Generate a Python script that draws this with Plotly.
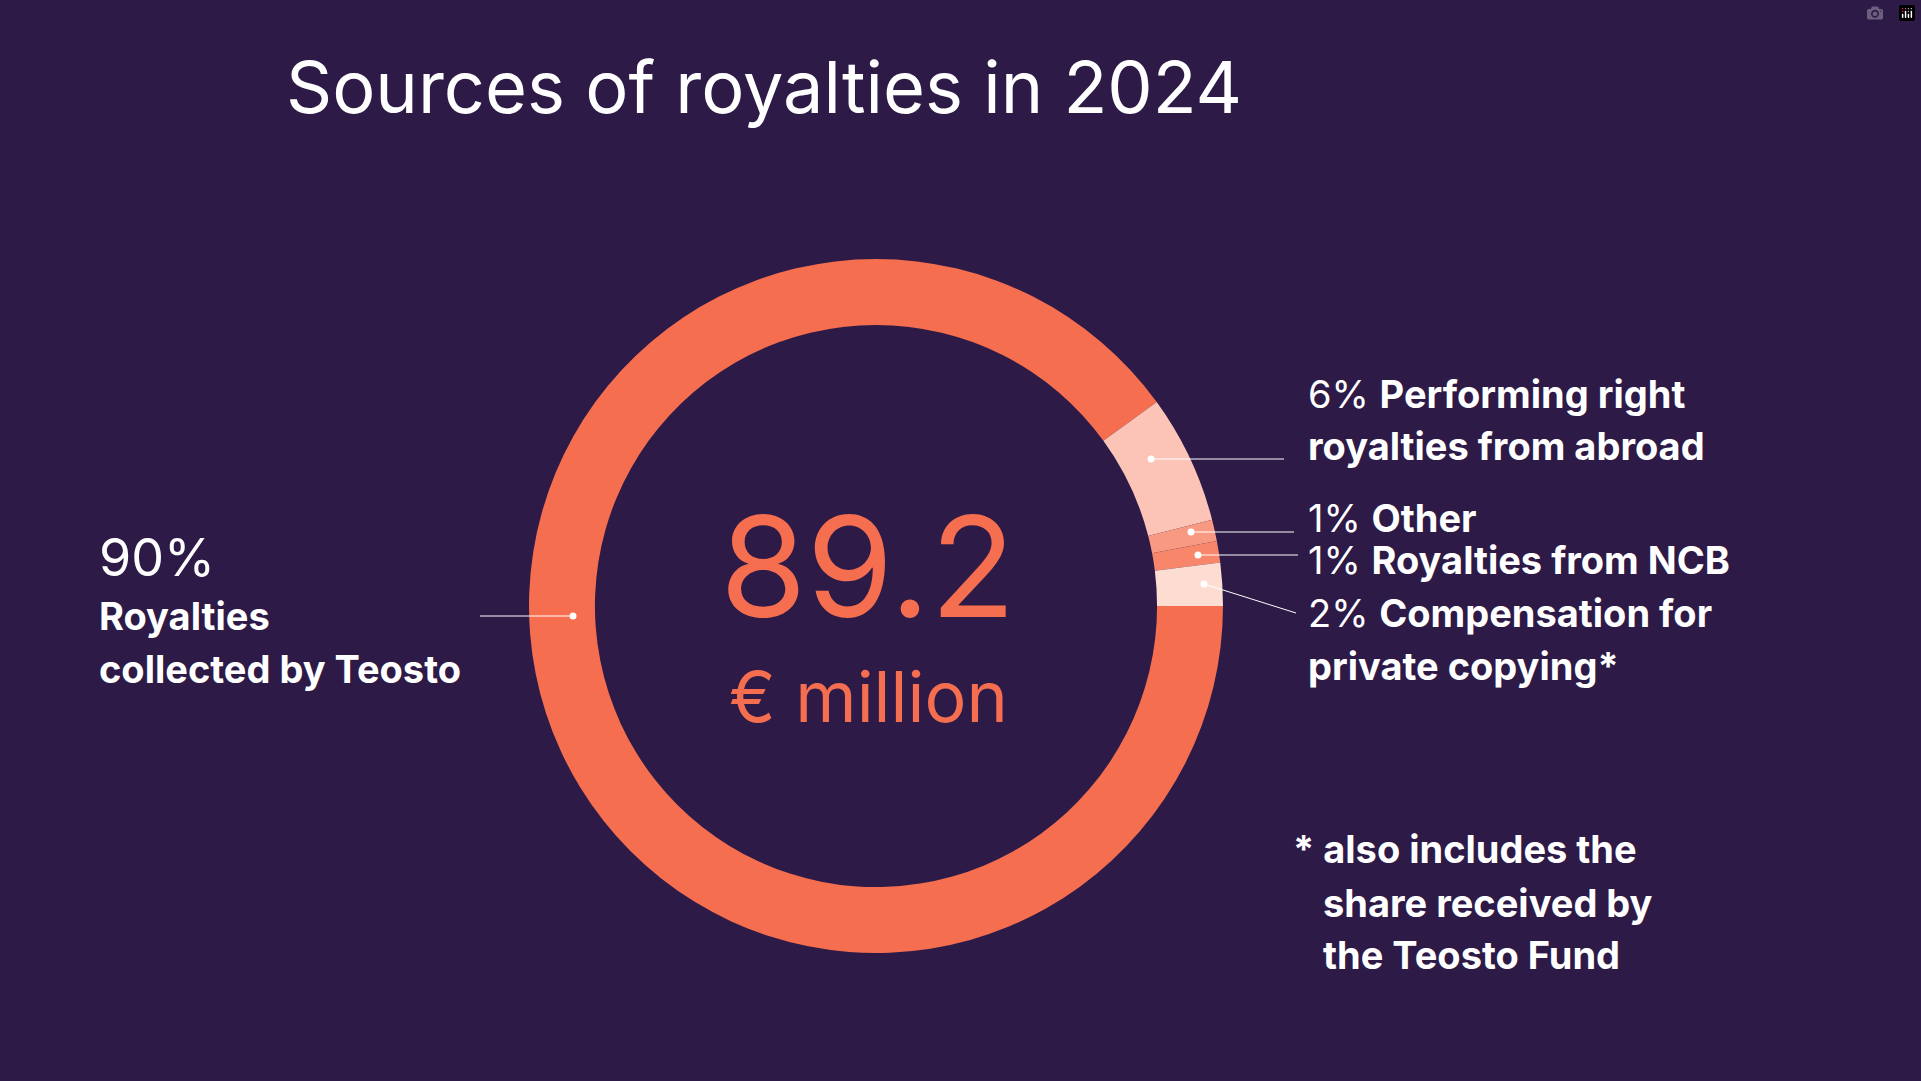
import plotly.graph_objects as go

labels = ["Royalties collected by Teosto", "Performing right royalties from abroad", "Other",
          "Royalties from NCB", "Compensation for private copying*"]
values = [90, 6, 1, 1, 2]
colors = ["#F46E4F", "#FBC4B6", "#F89A82", "#F7866A", "#FDDCD2"]
total_text = "89.2"
unit_text = "€ million"

W, H = 1921, 1081
BG = "#2D1A47"
FONT = "Inter"

def px(x): return x / W
def py(y): return 1 - y / H

fig = go.Figure(go.Pie(
    labels=labels, values=values, hole=0.81, sort=False, direction="clockwise",
    rotation=90, marker=dict(colors=colors, line=dict(width=0)), textinfo="none",
    hoverinfo="label+percent", showlegend=False,
    domain=dict(x=[px(876-347), px(876+347)], y=[py(606+347), py(606-347)])))

ann = []
def add(x, y, text, size, color="white", xanchor="left"):
    ann.append(dict(x=px(x), y=py(y), xref="paper", yref="paper", text=text, showarrow=False,
                    xanchor=xanchor, yanchor="middle", align="left",
                    font=dict(family=FONT, size=size, color=color)))

add(284, 86, "Sources of royalties in 2024", 72)
add(868, 566, total_text, 140, colors[0], "center")
add(868, 696, unit_text, 70, colors[0], "center")
add(97, 557, f"{values[0]}%", 52)
add(97, 616, "<b>Royalties</b>", 38)
add(97, 669, "<b>collected by Teosto</b>", 38)
add(1306, 394, f"{values[1]}% <b>Performing right</b>", 38)
add(1306, 446, "<b>royalties from abroad</b>", 38)
add(1306, 518, f"{values[2]}% <b>{labels[2]}</b>", 38)
add(1306, 560, f"{values[3]}% <b>{labels[3]}</b>", 38)
add(1306, 613, f"{values[4]}% <b>Compensation for</b>", 38)
add(1306, 666, "<b>private copying*</b>", 38)
add(1291, 849, "<b>* also includes the</b>", 38)
add(1321, 903, "<b>share received by</b>", 38)
add(1321, 955, "<b>the Teosto Fund</b>", 38)

shapes = []
def leader(x0, y0, x1, y1):
    shapes.append(dict(type="line", xref="paper", yref="paper", x0=px(x0), y0=py(y0),
                       x1=px(x1), y1=py(y1), line=dict(color="white", width=1)))
    r = 3.5
    shapes.append(dict(type="circle", xref="paper", yref="paper", x0=px(x0-r), x1=px(x0+r),
                       y0=py(y0+r), y1=py(y0-r), fillcolor="white", line=dict(width=0)))

leader(573, 616, 480, 616)
leader(1151, 459, 1284, 459)
leader(1191, 532, 1294, 532)
leader(1198, 555, 1298, 555)
leader(1204, 584, 1296, 613)

fig.update_layout(width=W, height=H, margin=dict(l=0, r=0, t=0, b=0),
                  paper_bgcolor=BG, plot_bgcolor=BG, annotations=ann, shapes=shapes)
fig.write_html("out.html", post_script="document.body.style.margin='0';document.body.style.background='#2D1A47';")
